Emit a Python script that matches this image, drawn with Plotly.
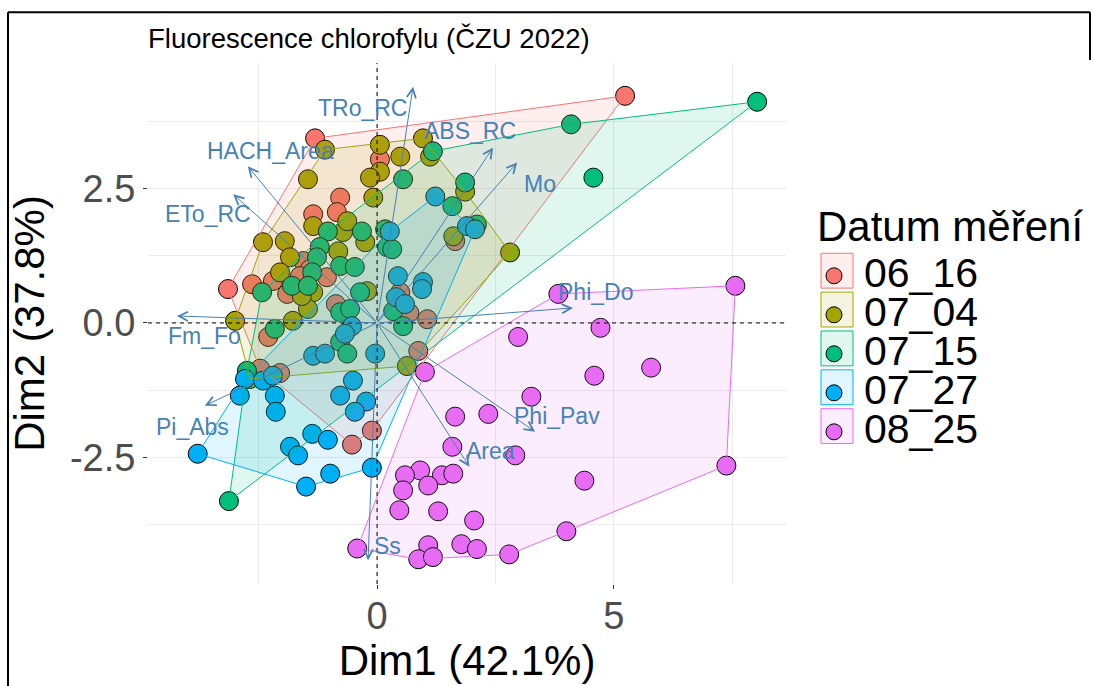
import plotly.graph_objects as go

# ---- data: PCA individuals (Dim1, Dim2) per measurement date ----
groups = ["06_16", "07_04", "07_15", "07_27", "08_25"]
colors = ["#F8766D", "#A3A500", "#00BF7D", "#00B0F6", "#E76BF3"]

d0616_x = [5.24, -1.31, 0.06, -0.78, -0.85, -1.35, -3.15, -2.64, -1.56, -1.42, -1.06, -1.63, -2.20,
           -1.90, -2.30, -2.47, -2.05, -0.87, 0.49, 0.68, 1.06, 0.87, -0.11, -0.53, 1.65]
d0616_y = [4.22, 3.43, 3.04, 2.33, 2.06, 2.02, 0.63, 0.72, 1.15, 1.00, 0.85, 0.87, 0.78,
           0.54, -0.26, -0.85, -0.93, 0.35, 0.57, 0.19, 0.07, -0.52, -2.00, -2.26, 1.52]

d0704_x = [-1.10, 0.06, 0.06, -0.15, 0.49, 0.97, 1.12, 1.86, -0.08, -1.46, -1.35, -2.41, -1.95, -0.72,
           -0.25, -1.84, -0.82, -2.05, -1.35, -3.00, -1.78, -1.46, -0.21, 1.61, 2.81, 0.63, -0.63,
           -1.59, -2.68]
d0704_y = [3.22, 3.31, 2.81, 2.70, 3.09, 3.43, 3.09, 2.44, 2.33, 2.67, 1.80, 1.50, 1.52, 1.69,
           1.50, 1.22, 1.33, 0.94, 0.57, 0.04, 0.04, 0.26, 0.59, 1.61, 1.31, -0.80, 1.89,
           0.50, -1.04]

d0715_x = [8.03, 4.10, 4.57, 1.18, 0.55, 1.86, 1.59, 2.11, 0.21, 0.32, -0.32, -1.04, -1.21, -1.27,
           -0.78, -0.47, -1.37, -1.80, -1.46, -2.43, -2.16, -0.78, -0.57, -0.36, 0.34, 0.55, -0.78,
           -0.63, -2.75, -3.13, 0.17]
d0715_y = [4.11, 3.69, 2.70, 3.19, 2.67, 2.61, 2.17, 1.83, 1.41, 1.37, 1.70, 1.70, 1.41, 1.22,
           1.06, 1.04, 0.94, 0.69, 0.69, 0.57, -0.11, 0.20, 0.26, 0.57, 0.22, -0.06, -0.35,
           -0.57, -0.89, -3.31, 1.74]

d0727_x = [1.23, 0.27, 1.90, 2.07, 0.44, 0.97, 0.40, 0.59, 0.95, -0.53, -0.68, -0.04, -1.35, -1.10,
           -2.79, -2.41, -2.20, -2.90, -2.16, -2.14, -0.51, -0.78, -0.23, -0.47, -1.37, -1.04,
           -1.84, -1.67, -3.79, -0.11, -0.99, -1.50]
d0727_y = [2.35, 1.70, 1.80, 1.74, 0.87, 0.76, 0.48, 0.35, 0.63, -0.06, -0.20, -0.57, -0.61, -0.57,
           -1.04, -1.07, -0.98, -1.35, -1.35, -1.65, -1.07, -1.35, -1.46, -1.65, -2.06, -2.17,
           -2.30, -2.46, -2.43, -2.69, -2.80, -3.04]

d0825_x = [4.72, 2.98, 1.01, 5.79, 4.59, 3.26, 1.65, 2.35, 1.59, 2.92, 7.38, 4.38, 0.91, 0.59,
           1.37, 1.61, 1.08, 0.55, 0.47, 1.29, 2.05, 4.00, 1.08, 0.87, 1.18, 1.78, 2.11, 2.79,
           7.57, 3.83, -0.42]
d0825_y = [-0.09, -0.26, -0.91, -0.83, -0.98, -1.37, -1.74, -1.69, -2.30, -2.46, -2.65, -2.93,
           -2.74, -2.83, -2.83, -2.80, -3.02, -3.11, -3.48, -3.50, -3.67, -3.87, -4.13, -4.39,
           -4.35, -4.11, -4.20, -4.30, 0.69, 0.54, -4.19]

# ---- variables (scaled loadings) and their label anchors ----
var_names = ["TRo_RC", "ABS_RC", "Mo", "HACH_Area", "ETo_RC", "Fm_Fo",
             "Pi_Abs", "Ss", "Area", "Phi_Pav", "Phi_Do"]
var_x = [0.76, 2.45, 2.96, -2.73, -3.04, -4.23, -3.64, -0.19, 1.95, 3.34, 4.14]
var_y = [4.39, 3.26, 2.98, 2.91, 2.39, 0.13, -1.54, -4.41, -2.67, -2.02, 0.28]
lab_x = [-0.31, 1.97, 3.45, -2.26, -3.57, -3.64, -3.91, 0.23, 2.39, 3.80, 4.61]
lab_y = [4.00, 3.57, 2.59, 3.19, 2.02, -0.24, -1.93, -4.15, -2.37, -1.72, 0.57]

x_ticks = [0, 5]
y_ticks = [-2.5, 0.0, 2.5]
y_ticktext = ["-2.5", "0.0", "2.5"]

group_x = [d0616_x, d0704_x, d0715_x, d0727_x, d0825_x]
group_y = [d0616_y, d0704_y, d0715_y, d0727_y, d0825_y]

FONT = "Liberation Sans, Arial, sans-serif"
ARROW = "#4682B4"

W, H = 1094, 686
L, R, T, B = 148, 786, 63, 586   # plot panel in pixels


def rgba(hex_color, a):
    h = hex_color.lstrip("#")
    r, g, b = int(h[0:2], 16), int(h[2:4], 16), int(h[4:6], 16)
    return f"rgba({r},{g},{b},{a})"


def convex_hull(xs, ys):
    pts = sorted(set(zip(xs, ys)))
    if len(pts) < 3:
        return pts

    def cross(o, a, b):
        return (a[0] - o[0]) * (b[1] - o[1]) - (a[1] - o[1]) * (b[0] - o[0])

    lower, upper = [], []
    for p in pts:
        while len(lower) >= 2 and cross(lower[-2], lower[-1], p) <= 0:
            lower.pop()
        lower.append(p)
    for p in reversed(pts):
        while len(upper) >= 2 and cross(upper[-2], upper[-1], p) <= 0:
            upper.pop()
        upper.append(p)
    return lower[:-1] + upper[:-1]


def px_x(px):
    return (px - L) / (R - L)


def px_y(py):
    return (B - py) / (B - T)


fig = go.Figure()

# individuals
for g, c, xs, ys in zip(groups, colors, group_x, group_y):
    fig.add_trace(go.Scatter(
        x=xs, y=ys, mode="markers", name=f"<span style='font-size:41px'>{g}</span>",
        legendgroup=g,
        marker=dict(size=19, color=c, line=dict(color="black", width=1)),
        hovertemplate=g + "<br>Dim1=%{x}<br>Dim2=%{y}<extra></extra>",
    ))

# convex hulls per date
for g, c, xs, ys in zip(groups, colors, group_x, group_y):
    hull = convex_hull(xs, ys)
    hx = [p[0] for p in hull] + [hull[0][0]]
    hy = [p[1] for p in hull] + [hull[0][1]]
    fig.add_trace(go.Scatter(
        x=hx, y=hy, mode="lines", fill="toself", fillcolor=rgba(c, 0.12),
        line=dict(color=c, width=1), legendgroup=g, showlegend=False, hoverinfo="skip",
    ))

annotations = []
# variable arrows
for name, vx, vy in zip(var_names, var_x, var_y):
    annotations.append(dict(
        x=vx, y=vy, ax=0, ay=0, xref="x", yref="y", axref="x", ayref="y",
        text="", showarrow=True, arrowhead=5, arrowsize=1.8, arrowwidth=1,
        arrowcolor=ARROW,
    ))
# variable labels
for name, lx, ly in zip(var_names, lab_x, lab_y):
    annotations.append(dict(
        x=lx, y=ly, xref="x", yref="y", text=name, showarrow=False,
        font=dict(family=FONT, size=23, color=ARROW),
    ))
# legend heading
annotations.append(dict(
    x=px_x(815), y=px_y(227), xref="paper", yref="paper", xanchor="left", yanchor="middle",
    text="Datum měření", showarrow=False, font=dict(family=FONT, size=42, color="black"),
))

shapes = [
    # dashed reference lines through the origin
    dict(type="line", xref="x", yref="paper", x0=0, x1=0, y0=0, y1=1,
         line=dict(color="black", width=1, dash="4px,4px")),
    dict(type="line", xref="paper", yref="y", x0=0, x1=1, y0=0, y1=0,
         line=dict(color="black", width=1, dash="4px,4px")),
    # outer frame
    dict(type="line", xref="paper", yref="paper", x0=px_x(8), x1=px_x(1090),
         y0=px_y(12), y1=px_y(12), line=dict(color="black", width=2)),
    dict(type="line", xref="paper", yref="paper", x0=px_x(8), x1=px_x(8),
         y0=px_y(12), y1=px_y(700), line=dict(color="black", width=2)),
    dict(type="line", xref="paper", yref="paper", x0=px_x(1090), x1=px_x(1090),
         y0=px_y(12), y1=px_y(60), line=dict(color="black", width=2)),
]
# legend key boxes
for i, c in enumerate(colors):
    top = 254 + 39 * i
    shapes.append(dict(
        type="rect", xref="paper", yref="paper", layer="below",
        x0=px_x(821), x1=px_x(853), y0=px_y(top), y1=px_y(top + 35),
        line=dict(color=c, width=1), fillcolor=rgba(c, 0.12),
    ))

grid = "#EBEBEB"
fig.update_layout(
    width=W, height=H,
    margin=dict(l=L, r=W - R, t=T, b=H - B, pad=0),
    paper_bgcolor="white", plot_bgcolor="white",
    font=dict(family=FONT, color="black"),
    title=dict(text="Fluorescence chlorofylu (ČZU 2022)", x=L / W, xanchor="left",
               y=1 - 38 / H, yanchor="middle", font=dict(size=27.5, color="black")),
    xaxis=dict(
        range=[-4.84, 8.64], tickvals=x_ticks, ticktext=[str(v) for v in x_ticks],
        showgrid=True, gridcolor=grid, gridwidth=1.3, zeroline=False,
        minor=dict(tickvals=[-2.5, 2.5, 7.5], showgrid=True, gridcolor=grid, gridwidth=0.7, ticklen=0),
        ticks="outside", ticklen=4, tickcolor="#333333", tickwidth=1,
        tickfont=dict(size=38, color="#4D4D4D"), ticklabelstandoff=-6,
        title=dict(text="Dim1 (42.1%)", font=dict(size=42, color="black"), standoff=8),
        showline=False, fixedrange=True,
    ),
    yaxis=dict(
        range=[-4.85, 4.83], tickvals=y_ticks, ticktext=y_ticktext,
        showgrid=True, gridcolor=grid, gridwidth=1.3, zeroline=False,
        minor=dict(tickvals=[-3.75, -1.25, 1.25, 3.75], showgrid=True, gridcolor=grid,
                   gridwidth=0.7, ticklen=0),
        ticks="outside", ticklen=4, tickcolor="#333333", tickwidth=1,
        tickfont=dict(size=38, color="#4D4D4D"),
        title=dict(text="Dim2 (37.8%)", font=dict(size=42, color="black"), standoff=12),
        showline=False, fixedrange=True,
    ),
    legend=dict(
        x=px_x(804), y=px_y(252), xanchor="left", yanchor="top",
        font=dict(size=27.7, color="black"), bgcolor="rgba(0,0,0,0)", itemwidth=50,
        tracegroupgap=0, itemclick=False, itemdoubleclick=False,
    ),
    annotations=annotations,
    shapes=shapes,
    showlegend=True,
)

fig.write_html("out.html")
